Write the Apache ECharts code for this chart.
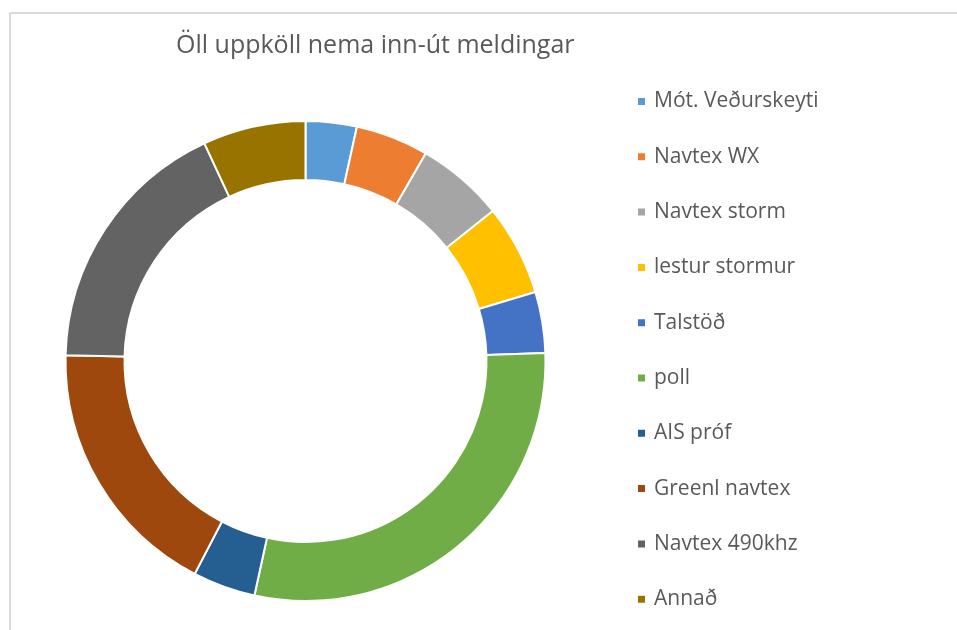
<!DOCTYPE html>
<html>
<head>
<meta charset="utf-8">
<script src="https://cdn.jsdelivr.net/npm/echarts@6/dist/echarts.min.js"></script>
<style>
  html, body { margin: 0; padding: 0; background: #fff; }
  #chart { width: 957px; height: 630px; }
</style>
</head>
<body>
<div id="chart"></div>
<script>
// share of calls per category (percent)
var categories = ["Mót. Veðurskeyti", "Navtex WX", "Navtex storm", "lestur stormur", "Talstöð",
  "poll", "AIS próf", "Greenl navtex", "Navtex 490khz", "Annað"];
var values = [3.44, 4.92, 5.89, 6.11, 4.11, 28.94, 4.22, 17.75, 17.69, 6.92];
var colors = ["#5B9BD5", "#ED7D31", "#A5A5A5", "#FFC000", "#4472C4",
  "#70AD47", "#255E91", "#9E480E", "#636363", "#997300"];

var chart = echarts.init(document.getElementById("chart"));
var option = {
  backgroundColor: "#fff",
  animation: false,
  color: colors,
  title: {
    text: "Öll uppköll nema inn-út meldingar",
    left: 176,
    top: 33,
    padding: 0,
    textStyle: {
      fontFamily: "Open Sans",
      fontSize: 25,
      fontWeight: "normal",
      color: "#595959"
    }
  },
  legend: {
    orient: "vertical",
    left: 636,
    top: 91,
    padding: 0,
    itemWidth: 9,
    itemHeight: 9,
    itemGap: 34.3,
    icon: "rect",
    data: categories,
    textStyle: {
      fontFamily: "Open Sans",
      fontSize: 21,
      lineHeight: 20,
      color: "#595959",
      padding: [0, 0, 0, 3]
    }
  },
  graphic: [
    { type: "line", shape: { x1: 10, y1: 13, x2: 957, y2: 13 }, style: { stroke: "#d9d9d9", lineWidth: 2 } },
    { type: "line", shape: { x1: 10, y1: 13, x2: 10, y2: 630 }, style: { stroke: "#d9d9d9", lineWidth: 2 } }
  ],
  series: [
    {
      name: "Uppköll",
      type: "pie",
      center: [305.5, 361],
      radius: [181, 240],
      startAngle: 90,
      clockwise: true,
      avoidLabelOverlap: false,
      label: { show: false },
      labelLine: { show: false },
      itemStyle: { borderColor: "#fff", borderWidth: 2 },
      emphasis: { disabled: true },
      data: categories.map(function (name, i) {
        return { name: name, value: values[i] };
      })
    }
  ]
};
chart.setOption(option);
</script>
</body>
</html>
